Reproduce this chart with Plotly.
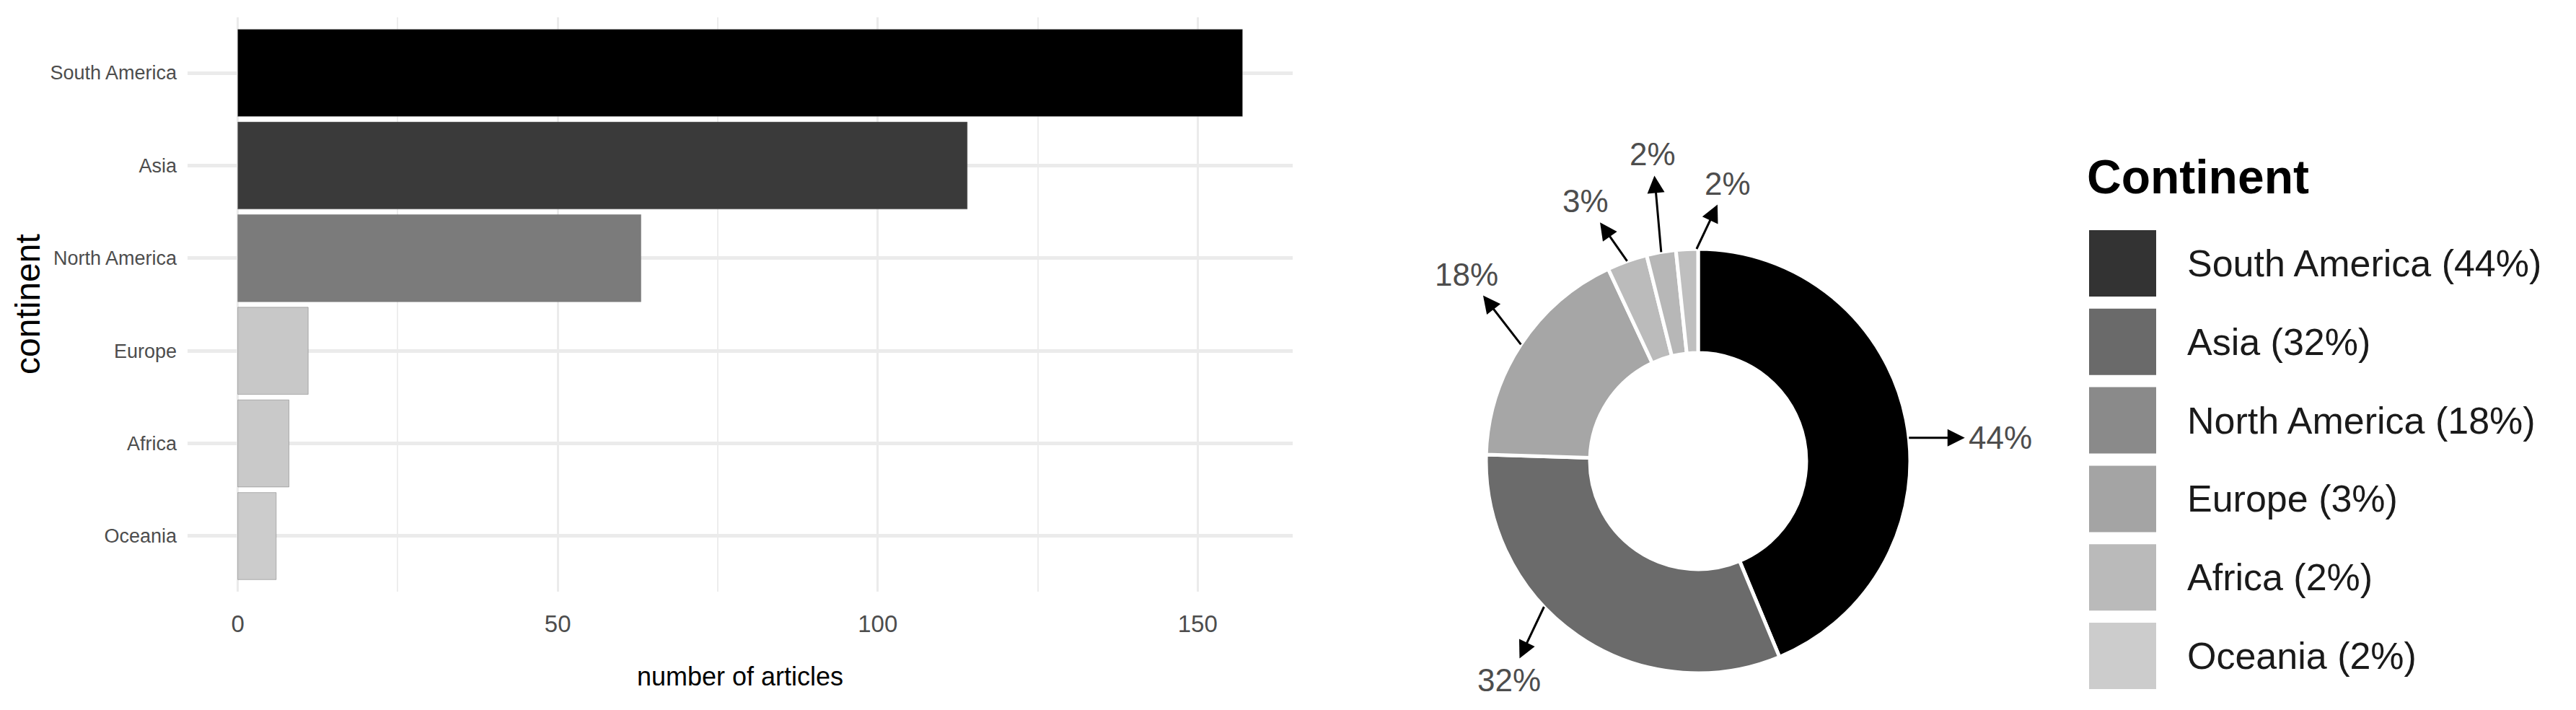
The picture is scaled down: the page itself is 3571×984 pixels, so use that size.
import numpy as np
import plotly.graph_objects as go

# data
continents = ["South America", "Asia", "North America", "Europe", "Africa", "Oceania"]
articles = [157, 114, 63, 11, 8, 6]

bar_colors = ["#000000", "#3a3a3a", "#7b7b7b", "#c8c8c8", "#c9c9c9", "#cccccc"]
pie_colors = ["#000000", "#6b6b6b", "#a6a6a6", "#bbbbbb", "#b7b7b7", "#bfbfbf"]
legend_colors = ["#333333", "#6a6a6a", "#8a8a8a", "#a4a4a4", "#bababa", "#cccccc"]

# page body has an 8px margin, so work in screen pixels and shift
OFF = 8
W, H = 3571 - OFF, 984 - OFF
SANS = "Liberation Sans, Arial, Helvetica, sans-serif"


def px2x(px):
    return (px - OFF) / W


def px2y(py):
    return 1 - (py - OFF) / H


pct = np.round(np.array(articles) / sum(articles) * 100).astype(int)

fig = go.Figure()

# left: horizontal bars
fig.add_trace(go.Bar(
    x=articles, y=continents,
    orientation='h',
    width=0.94,
    marker=dict(color=bar_colors, line=dict(color='rgba(120,120,120,0.5)', width=1)),
    showlegend=False, hoverinfo='skip',
))

# right: donut
cx, cy, r = 2354, 639, 294
fig.add_trace(go.Pie(
    labels=continents, values=articles,
    hole=0.51, sort=False, direction='clockwise', rotation=0,
    marker=dict(colors=pie_colors, line=dict(color='white', width=5)),
    textinfo='none', showlegend=False, hoverinfo='skip',
    domain=dict(x=[px2x(cx - r), px2x(cx + r)], y=[px2y(cy + r), px2y(cy - r)]),
))

fig.update_layout(
    width=W, height=H,
    margin=dict(l=0, r=0, t=0, b=0),
    paper_bgcolor='white', plot_bgcolor='white',
    xaxis=dict(
        domain=[px2x(260), px2x(1792)],
        range=[-7.85, 164.85],
        tickvals=[0, 50, 100, 150],
        showgrid=True, gridcolor='#ebebeb', gridwidth=3,
        minor=dict(tickvals=[25, 75, 125], showgrid=True, gridcolor='#ededed', gridwidth=2),
        zeroline=False, showline=False, ticks='',
        tickfont=dict(family=SANS, size=33, color='#4d4d4d'),
        ticklabelstandoff=22,
        title=dict(text='number of articles', font=dict(family=SANS, size=36, color='black'), standoff=42),
    ),
    yaxis=dict(
        domain=[px2y(820), px2y(24)],
        categoryorder='array', categoryarray=continents[::-1],
        range=[-0.6, 5.6],
        showgrid=True, gridcolor='#ebebeb', gridwidth=5,
        zeroline=False, showline=False, ticks='',
        tickfont=dict(family=SANS, size=27, color='#4d4d4d'),
        ticklabelstandoff=14,
    ),
)

# y axis title
fig.add_annotation(
    text='continent', textangle=-90,
    x=px2x(38), y=px2y(422), xref='paper', yref='paper',
    xanchor='center', yanchor='middle', showarrow=False,
    font=dict(family=SANS, size=48, color='black'),
)

# percentage labels with arrows pointing out of the slices
cum = np.cumsum(articles)
mids = (cum - np.array(articles) / 2) / cum[-1] * 360
label_shift = [5, 12, 0, 0, 0, 2.6]
text_offsets = [(127, 0), (-48, 101), (-75, -97), (-58, -83), (-12, -136), (43, -91)]
for mid, sh, (dx, dy), p in zip(mids, label_shift, text_offsets, pct):
    th = np.radians(mid + sh)
    px = cx + r * np.sin(th)
    py = cy - r * np.cos(th)
    fig.add_annotation(
        x=px2x(px), y=px2y(py), xref='paper', yref='paper',
        text=f"{p}%", showarrow=True, ax=dx, ay=dy,
        arrowside='start', startarrowhead=2, startarrowsize=1.6,
        arrowwidth=3, arrowcolor='black', startstandoff=4, standoff=0,
        font=dict(family=SANS, size=44, color='#4d4d4d'),
    )

# legend
fig.add_annotation(
    text='<b>Continent</b>', x=px2x(2891), y=px2y(245), xref='paper', yref='paper',
    xanchor='left', yanchor='middle', showarrow=False,
    font=dict(family=SANS, size=66, color='black'),
)
sw_x0, sw_x1, sw_top, pitch, sw_h = 2896, 2989, 319, 108.8, 92
for i, (name, p, col) in enumerate(zip(continents, pct, legend_colors)):
    y0 = sw_top + i * pitch
    fig.add_shape(type='rect', xref='paper', yref='paper',
                  x0=px2x(sw_x0), x1=px2x(sw_x1), y0=px2y(y0 + sw_h), y1=px2y(y0),
                  fillcolor=col, line=dict(width=0))
    fig.add_annotation(
        text=f"{name} ({p}%)", x=px2x(3030), y=px2y(y0 + sw_h / 2),
        xref='paper', yref='paper', xanchor='left', yanchor='middle', showarrow=False,
        font=dict(family=SANS, size=52, color='#1a1a1a'),
    )

fig.write_html("out.html")
